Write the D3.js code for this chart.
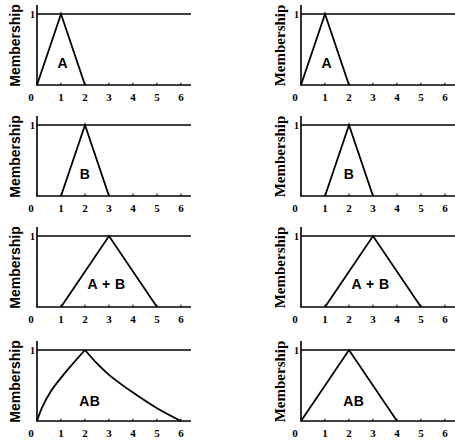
<!DOCTYPE html>
<html><head><meta charset="utf-8">
<script src="https://cdn.jsdelivr.net/npm/d3@7"></script>
<style>html,body{margin:0;padding:0;background:#fff;}svg{display:block;}
.serif{font-family:"Liberation Serif","Times New Roman","DejaVu Serif",serif;}
.sans{font-family:"Liberation Sans",Arial,"DejaVu Sans",sans-serif;}
</style>
</head><body>
<svg id="c" width="455" height="440"></svg>
<script>
// ---- data ----
const xTicks = [0, 1, 2, 3, 4, 5, 6];
const yTicks = [1];
const setA = [[0, 0], [1, 1], [2, 0]];
const setB = [[1, 0], [2, 1], [3, 0]];
const setSum = [[1, 0], [3, 1], [5, 0]];
const setProdLeftRise = [[0, 0], [0.21, 0.19], [0.56, 0.41], [1.1, 0.65], [1.5, 0.81], [2, 1]];
const setProdLeftFall = [[2, 1], [2.5, 0.81], [3.0, 0.65], [4.0, 0.40], [5.0, 0.18], [6, 0]];
const setProdRight = [[0, 0], [2, 1], [4, 0]];
const panelLabels = ["A", "B", "A + B", "AB"];
const yTitle = "Membership";

// ---- layout ----
const rowTop = [14, 125, 236, 350];
const rowH = 71;
const cols = [
  {x0: 37, xEnd: 191, titleX: 15, titleClass: "sans", titleSize: 14,
   series: [[setA], [setB], [setSum], [setProdLeftRise, setProdLeftFall]], curved: [false, false, false, true]},
  {x0: 301, xEnd: 455, titleX: 280, titleClass: "serif", titleSize: 15,
   series: [[setA], [setB], [setSum], [setProdRight]], curved: [false, false, false, false]}
];
const labelPos = [[1.08, 0.31], [2.0, 0.31], [2.9, 0.32], [2.2, 0.28]];
const unit = 24;

const svg = d3.select("#c");

cols.forEach((col, ci) => {
  rowTop.forEach((top, ri) => {
    const bottom = top + rowH;
    const x = d3.scaleLinear().domain([0, 6]).range([col.x0, col.x0 + 6 * unit]);
    const y = d3.scaleLinear().domain([0, 1]).range([bottom, top]);
    const g = svg.append("g");

    g.append("line").attr("x1", col.x0).attr("x2", col.xEnd)
      .attr("y1", y(0)).attr("y2", y(0)).attr("stroke", "#000").attr("stroke-width", 1.6);
    g.append("line").attr("x1", col.x0).attr("x2", col.xEnd)
      .attr("y1", y(1)).attr("y2", y(1)).attr("stroke", "#000").attr("stroke-width", 1.3);
    g.append("line").attr("x1", col.x0).attr("x2", col.x0)
      .attr("y1", y(0) + 0.8).attr("y2", y(1) - 9).attr("stroke", "#000").attr("stroke-width", 1.6);

    g.selectAll(".xt").data(xTicks).enter().append("line")
      .attr("x1", d => x(d)).attr("x2", d => x(d))
      .attr("y1", y(0)).attr("y2", y(0) - 2.5)
      .attr("stroke", "#000").attr("stroke-width", 1);
    g.selectAll(".xl").data(xTicks).enter().append("text")
      .attr("class", "serif")
      .attr("x", d => x(d) - (d === 0 ? 6 : 0)).attr("y", y(0) + 16)
      .attr("text-anchor", "middle")
      .attr("font-size", 11).attr("font-weight", "bold")
      .text(d => d);

    g.selectAll(".yl").data(yTicks).enter().append("text")
      .attr("class", "serif")
      .attr("x", col.x0 - 2).attr("y", d => y(d) + 4)
      .attr("text-anchor", "end")
      .attr("font-size", 10).attr("font-weight", "bold")
      .text(d => d);

    const line = d3.line().x(d => x(d[0])).y(d => y(d[1]))
      .curve(col.curved[ri] ? d3.curveCatmullRom.alpha(0.5) : d3.curveLinear);
    col.series[ri].forEach(s => {
      g.append("path").attr("d", line(s)).attr("fill", "none")
        .attr("stroke", "#000").attr("stroke-width", 1.8).attr("stroke-linejoin", "miter");
    });

    g.append("text").attr("class", "sans")
      .attr("x", x(labelPos[ri][0])).attr("y", y(labelPos[ri][1]) + 5)
      .attr("text-anchor", "middle")
      .attr("font-size", 14).attr("font-weight", "bold")
      .attr("letter-spacing", "0.5px")
      .text(panelLabels[ri]);

    g.append("text").attr("class", col.titleClass)
      .attr("transform", `translate(${col.titleX},${(top + bottom) / 2 - 4}) rotate(-90)`)
      .attr("text-anchor", "middle").attr("dy", "0.35em")
      .attr("font-size", col.titleSize).attr("font-weight", "bold")
      .text(yTitle);
  });
});
</script>
</body></html>
